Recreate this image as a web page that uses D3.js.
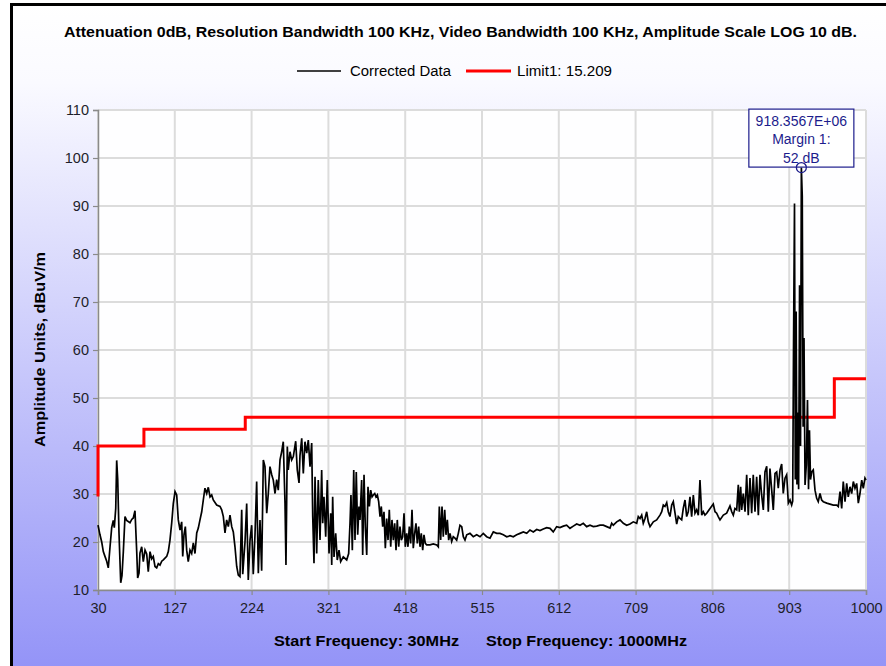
<!DOCTYPE html>
<html>
<head>
<meta charset="utf-8">
<script src="https://cdn.jsdelivr.net/npm/d3@7"></script>
<style>
  body { margin: 0; background: #fff; }
  svg { display: block; }
</style>
</head>
<body>
<div id="chart"></div>
<script>
// Spectrum sweep: [frequency MHz, level dBuV/m]
var traceLow = [
  [30.0,23.5],[32.5,21.5],[34.7,20],[36.7,18],[38.8,17],[41.0,16],[43.0,14.6],[45.2,19],[47.3,23],[49.3,24.5],
  [50.6,23],[52.4,27],[53.6,37],[54.9,33],[56.5,22],[58.7,11.5],[60.3,13],[62.0,18],[64.1,25.3],[66.2,24.5],
  [70.4,24],[72.6,24.7],[74.6,25],[76.7,26.5],[78.9,18],[80.1,12.5],[81.8,13.5],[83.0,17.7],[85.2,19],[87.2,15.9],
  [89.4,18.3],[91.5,17.5],[93.5,13.8],[95.7,18],[97.8,16.5],[99.8,17],[102.0,14.9],[104.1,14.6],[106.2,15.5],[108.3,15.2],
  [110.5,16],[112.5,16.3],[116.8,17],[118.8,18],[120.9,20.4],[123.1,24],[125.1,28],[127.3,30.5],[129.4,29.8],[131.4,24.6],
  [133.6,22.5],[135.7,24.2],[137.0,17],[138.6,21.5],[140.3,23.2],[142.0,18.3],[144.0,15.9],[146.2,18.3],[148.3,17.6],[150.4,19.8],
  [152.5,17.6],[154.7,21.9],[156.7,22.9],[158.8,24.6],[161.0,26.3],[163.0,28.75],[165.1,31.2],[167.3,30.1],[169.3,31.4],[171.5,29.4],
  [173.6,29.8],[175.6,28.75],[179.9,27.7],[184.1,27.4],[186.2,26.7],[188.3,25.3],[190.4,21.9],[192.5,24.6],[194.6,23.2],[196.7,25.6],
  [198.9,23.2],[200.9,22.1],[203.0,19],[205.2,14.9],[207.2,13.1],[209.3,12.8],[211.5,26.7],[212.8,13.3],[215.7,20.1],[217.8,28],
  [219.8,12.1],[222.0,20.4],[224.1,23.5],[226.1,13.3],[228.3,21.5],[230.4,32.6],[232.5,13.5],[234.6,24.6],[236.7,14],[238.8,37.1],
  [240.9,35.7],[243.1,26],[245.1,30.1],[247.2,35.7],[249.4,34],[251.4,32.9],[253.6,30.1],[255.7,33],[257.7,30.8],[259.9,37.1],
  [262.0,38.8],[264.0,40.9],[266.2,28.1],[267.4,15.2],[269.1,39.9],[270.3,35],[272.5,38.8],[274.6,37.1],[276.7,37.8],[279.7,41],
  [281.7,35],[283.9,32.3]
];

var traceMid = [
  [285.1,38],[287.3,41.6],[289.3,34.3],[291.4,40.9],[293.6,38.5],[295.6,41.25],[297.8,35.7],[299.9,40.6],[301.2,25.3],[302.8,15.6],
  [304.1,33.6],[306.2,17.6],[308.2,32.9],[310.4,20.4],[312.5,35],[313.8,23.9],[315.4,29.4],[317.6,21.1],[319.6,32.9],[321.8,17.6],
  [323.9,26],[325.2,15.2],[326.4,29.4],[328.1,16.9],[330.2,21.8],[332.2,16.25],[334.4,18.3],[336.5,15.9],[339.8,16.9],[344.1,16.25],
  [346.6,17.6],[348.3,23.9],[349.5,29.8],[351.2,18.3],[353.0,35],[354.6,20.4],[356.2,34.6],[358.0,21.5],[359.6,27.4],[360.9,24.6],
  [363.0,32.9],[364.3,17.3],[366.0,34],[367.6,23.2],[369.4,17.3],[371.0,31.5],[372.7,27.4],[374.4,30.8],[376.1,29.4],[377.7,29.8],
  [379.5,30.1],[381.1,29.4],[382.8,29.8],[384.5,28.4],[386.2,25.3],[387.8,27.4],[389.6,23.2],[391.2,26.3],[392.9,18.7],[394.6,24.9],
  [396.3,20.4],[397.9,26.7],[399.7,19],[401.3,24.6],[403.0,20.4],[404.7,23.9],[406.4,18.3],[408.0,24.6],[409.8,19],[411.4,23.2],
  [413.1,20.4],[414.8,21.1],[416.5,26],[418.1,19],[419.9,21.8],[421.5,19],[423.2,23.2],[424.9,19.7],[426.6,26.7],[428.2,18.7],
  [430.0,21.8],[431.6,23.9],[433.3,19.7],[435.0,23.2],[436.7,19],[438.3,21.8],[440.1,18.3],[441.7,21.5],[443.4,19.7],[445.1,19.4],
  [449.3,19.4],[453.5,19.6],[457.8,19.4],[459.8,19],[461.1,27.4],[462.8,20.4],[464.5,27.4],[466.1,21.1],[467.9,26.7],[469.5,21.5],
  [471.2,24.6],[472.9,20.4],[474.6,21.8],[476.7,20.1],[478.7,21.1],[480.9,20.8],[483.0,20.4],[485.1,21.8],[487.2,23.5],[489.4,23.2],
  [491.4,21.1],[493.5,20.4],[495.7,21.5],[499.8,21.8],[504.0,21.1],[508.3,21.5],[512.5,21.1],[516.6,21.8],[520.9,21.1],[525.1,20.8],
  [529.3,22.1],[533.6,21.8],[537.7,21.8],[541.9,21.5],[546.2,21.1],[550.4,21.3],[554.5,21.1],[558.8,21.5],[563.0,21.8],[567.2,22.1],
  [571.5,21.8],[575.6,22.5],[579.8,22.1],[584.1,22.6],[588.2,22.4],[592.4,22.7],[596.7,23],[600.9,22.85],[605.0,22.1],[609.3,23.2],
  [613.5,23],[617.7,23.3],[621.9,23.5],[626.1,22.85],[630.3,23.3],[634.6,23.75],[638.8,23.5],[642.9,23.9],[647.2,23.2],[651.4,23.5],
  [655.6,23.2],[659.9,23.3],[664.0,23.5]
];

var traceHigh = [
  [668.2,23.5],[672.5,23.2],[676.7,22.9],[678.8,23.9],[680.8,23.5],[685.1,24.2],[689.3,24.6],[693.5,23.9],[697.7,23.5],[701.9,23.75],
  [706.1,24.2],[710.4,23.9],[712.4,25.3],[714.6,24.9],[716.7,25.6],[718.7,23.9],[720.9,24.9],[723.0,26.3],[725.0,24.2],[727.2,23.2],
  [731.4,24.2],[735.6,24.6],[739.8,25.6],[742.0,26.3],[744.0,27.7],[746.1,27.4],[748.3,28.2],[750.3,26.3],[752.4,25.3],[754.6,27.7],
  [756.6,28.4],[758.8,26],[760.9,23.75],[762.9,25.3],[765.1,24.9],[767.2,24.6],[769.2,27],[771.4,28.75],[773.5,25.3],[775.5,26.3],
  [777.7,29.4],[779.8,25.3],[781.9,29.8],[784.0,26],[786.1,26.7],[788.2,25.6],[790.3,32.9],[792.5,25.6],[794.5,26.3],[796.6,25.6],
  [798.8,26],[803.0,27],[807.1,27.9],[809.3,26.3],[811.4,26],[813.4,25.3],[815.6,24.6],[819.8,25.6],[824.0,26],[828.2,27.5],
  [830.4,26.3],[832.4,25.6],[834.5,27],[836.7,26.7],[838.7,31.9],[840.0,26.3],[841.7,31.5],[843.0,26.7],[845.0,30.1],[847.2,26.3],
  [849.3,34],[851.3,25.6],[853.5,33.3],[855.6,26],[857.6,34],[859.8,26.3],[861.9,33.6],[864.0,25.6],[866.1,34],[868.2,29.8],
  [870.3,26.7],[872.4,34.6],[874.6,35.8],[876.6,26.3],[878.7,35.3],[880.9,30.8],[882.9,26.7],[885.1,34.3],[887.2,34.6],[889.2,31.2],
  [891.4,35],[893.5,36.25],[895.5,30.1],[897.7,33.3],[899.8,34],[901.9,28.1],[904.0,28.75],[906.1,27.7],
  // the 918 MHz emission
  [907.4,28.5],[908.4,59],[909.7,90.5],[910.7,33],[911.8,68],[912.8,32],[913.9,47],[914.9,31],[916.1,73.5],[917.3,40],
  [918.36,98],[919.5,92],[920.6,44],[921.7,62.5],[923.0,31.9],[924.6,36],[926.1,49.6],[927.4,31],[928.6,43.3],[929.9,33],
  [931.4,34.6],[933.4,35],
  [935.6,30.8],[937.7,29.1],[939.7,28.4],[941.9,30.1],[944.0,28.75],[946.1,28.4],[950.4,28.1],[954.5,27.9],[958.7,27.7],[963.0,27.7],
  [965.0,27.4],[967.2,30.5],[969.3,27],[971.3,32.6],[973.5,28.4],[975.6,32.2],[977.6,29.4],[979.8,31.5],[981.9,30.1],[984.0,32.6],
  [986.1,31.2],[988.2,32.2],[990.3,28.1],[992.4,30.1],[994.6,32.9],[996.6,31.2],[998.7,33.3],[1000,32.9]
];

// Limit line (stepped)
var limitFreq  = [30, 30, 88, 88, 216, 216, 960, 960, 1000];
var limitLevel = [29.5, 40, 40, 43.5, 43.5, 46, 46, 54, 54];

// Marker
var markerFreq = 918.36;
var markerLevel = 98;
var markerLines = ["918.3567E+06", "Margin 1:", "52 dB"];

// Axes
var xTicks = [30, 127, 224, 321, 418, 515, 612, 709, 806, 903, 1000];
var yTicks = [10, 20, 30, 40, 50, 60, 70, 80, 90, 100, 110];

var titleText = "Attenuation 0dB, Resolution Bandwidth 100 KHz, Video Bandwidth 100 KHz, Amplitude Scale LOG 10 dB.";
var yTitle = "Amplitude Units, dBuV/m";
var legendNames = ["Corrected Data", "Limit1: 15.209"];

var width = 886, height = 666;
var plot = {left: 98, right: 866, top: 110, bottom: 590};
var sansFont = "'Liberation Sans', Arial, sans-serif";

var svg = d3.select("#chart").append("svg")
    .attr("width", width)
    .attr("height", height);

// background gradient, white at top to blue at bottom
var defs = svg.append("defs");
var grad = defs.append("linearGradient")
    .attr("id", "bg")
    .attr("x1", 0).attr("y1", 0).attr("x2", 0).attr("y2", 1);
grad.append("stop").attr("offset", "0%").attr("stop-color", "#ffffff");
grad.append("stop").attr("offset", "12%").attr("stop-color", "#fafaff");
grad.append("stop").attr("offset", "100%").attr("stop-color", "#9494f7");

svg.append("rect")
    .attr("width", width).attr("height", height)
    .attr("fill", "#fff");
svg.append("rect")
    .attr("x", 10).attr("y", 3)
    .attr("width", width - 10).attr("height", height - 3)
    .attr("fill", "url(#bg)");

// black frame on top and left
svg.append("path")
    .attr("d", "M11.5,666 V4.5 H886")
    .attr("fill", "none")
    .attr("stroke", "#000")
    .attr("stroke-width", 3);

var x = d3.scaleLinear().domain([30, 1000]).range([plot.left, plot.right]);
var y = d3.scaleLinear().domain([10, 110]).range([plot.bottom, plot.top]);

// plot area
svg.append("rect")
    .attr("x", plot.left).attr("y", plot.top)
    .attr("width", plot.right - plot.left)
    .attr("height", plot.bottom - plot.top)
    .attr("fill", "#fefeff");

// grid
svg.append("g")
    .selectAll("line")
    .data(xTicks)
    .enter()
    .append("line")
    .attr("x1", function(d) { return x(d); })
    .attr("x2", function(d) { return x(d); })
    .attr("y1", plot.top).attr("y2", plot.bottom)
    .attr("stroke", "#dcdcdc")
    .attr("stroke-width", 2);

svg.append("g")
    .selectAll("line")
    .data(yTicks)
    .enter()
    .append("line")
    .attr("x1", plot.left).attr("x2", plot.right)
    .attr("y1", function(d) { return y(d); })
    .attr("y2", function(d) { return y(d); })
    .attr("stroke", "#dcdcdc")
    .attr("stroke-width", 2);

// axes
var xAxis = svg.append("g")
    .attr("transform", "translate(0," + plot.bottom + ")")
    .call(d3.axisBottom(x).tickValues(xTicks).tickSize(5).tickPadding(8).tickFormat(d3.format("d")));
var yAxis = svg.append("g")
    .attr("transform", "translate(" + plot.left + ",0)")
    .call(d3.axisLeft(y).tickValues(yTicks).tickSize(5).tickPadding(4).tickFormat(d3.format("d")));

[xAxis, yAxis].forEach(function(ax) {
    ax.select(".domain").attr("stroke", "#8a8a8a").attr("stroke-width", 1.5);
    ax.selectAll(".tick line").attr("stroke", "#8a8a8a").attr("stroke-width", 1.2);
    ax.selectAll(".tick text")
        .attr("fill", "#1e1e2a")
        .style("font-family", sansFont)
        .style("font-size", "14.5px");
});

// limit line
var limitPts = limitFreq.map(function(f, i) { return [f, limitLevel[i]]; });
var line = d3.line()
    .x(function(d) { return x(d[0]); })
    .y(function(d) { return y(d[1]); });

svg.append("path")
    .datum(limitPts)
    .attr("d", line)
    .attr("fill", "none")
    .attr("stroke", "#ff0000")
    .attr("stroke-width", 3);

// measured trace
var trace = traceLow.concat(traceMid, traceHigh);
svg.append("path")
    .datum(trace)
    .attr("d", line)
    .attr("fill", "none")
    .attr("stroke", "#000")
    .attr("stroke-width", 1.7)
    .attr("stroke-linejoin", "miter");

// marker box + circle
var mx = x(markerFreq), my = y(markerLevel);
svg.append("rect")
    .attr("x", mx - 52.5).attr("y", my - 58.5)
    .attr("width", 105).attr("height", 58)
    .attr("fill", "#fff")
    .attr("stroke", "#1c1c8c")
    .attr("stroke-width", 1.2);

svg.append("g")
    .selectAll("text")
    .data(markerLines)
    .enter()
    .append("text")
    .attr("x", mx)
    .attr("y", function(d, i) { return my - 42 + i * 18.5; })
    .attr("text-anchor", "middle")
    .attr("fill", "#1c1c8c")
    .style("font-family", sansFont)
    .style("font-size", "14px")
    .text(function(d) { return d; });

svg.append("circle")
    .attr("cx", mx).attr("cy", my)
    .attr("r", 5)
    .attr("fill", "none")
    .attr("stroke", "#1c1c8c")
    .attr("stroke-width", 1.3);

// title
svg.append("text")
    .attr("x", 64).attr("y", 37)
    .attr("textLength", 793)
    .attr("lengthAdjust", "spacingAndGlyphs")
    .style("font-family", sansFont)
    .style("font-weight", "bold")
    .style("font-size", "14px")
    .text(titleText);

// legend
var legend = svg.append("g");
legend.append("line")
    .attr("x1", 297).attr("x2", 341).attr("y1", 71).attr("y2", 71)
    .attr("stroke", "#000").attr("stroke-width", 1.4);
legend.append("text")
    .attr("x", 350).attr("y", 76)
    .attr("textLength", 101).attr("lengthAdjust", "spacingAndGlyphs")
    .style("font-family", sansFont).style("font-size", "14px")
    .text(legendNames[0]);
legend.append("line")
    .attr("x1", 466).attr("x2", 511).attr("y1", 71).attr("y2", 71)
    .attr("stroke", "#ff0000").attr("stroke-width", 3);
legend.append("text")
    .attr("x", 517).attr("y", 76)
    .attr("textLength", 95).attr("lengthAdjust", "spacingAndGlyphs")
    .style("font-family", sansFont).style("font-size", "14px")
    .text(legendNames[1]);

// y axis title
svg.append("text")
    .attr("transform", "translate(45,447) rotate(-90)")
    .attr("textLength", 195)
    .attr("lengthAdjust", "spacingAndGlyphs")
    .style("font-family", sansFont)
    .style("font-weight", "bold")
    .style("font-size", "15px")
    .text(yTitle);

// bottom start / stop text
svg.append("text")
    .attr("x", 274).attr("y", 646)
    .attr("textLength", 185).attr("lengthAdjust", "spacingAndGlyphs")
    .style("font-family", sansFont).style("font-weight", "bold").style("font-size", "14px")
    .text("Start Frequency: 30MHz");
svg.append("text")
    .attr("x", 486).attr("y", 646)
    .attr("textLength", 201).attr("lengthAdjust", "spacingAndGlyphs")
    .style("font-family", sansFont).style("font-weight", "bold").style("font-size", "14px")
    .text("Stop Frequency: 1000MHz");
</script>
</body>
</html>
